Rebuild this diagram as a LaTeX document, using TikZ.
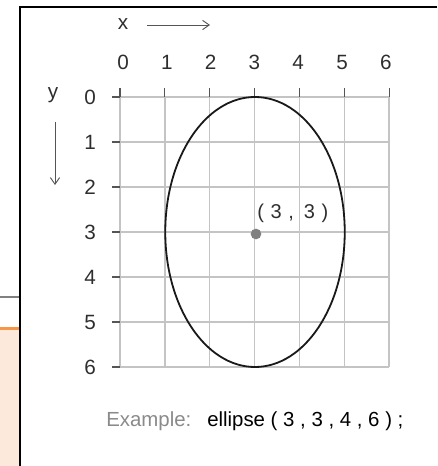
\documentclass[tikz,border=0pt]{standalone}
\usepackage{fontspec}
\setmainfont{Liberation Sans}
\usetikzlibrary{arrows.meta}
\definecolor{gridc}{HTML}{C4C4C4}
\definecolor{tickc}{HTML}{555555}
\definecolor{txt}{HTML}{2E2E2E}
\definecolor{exgray}{HTML}{8A8A8A}
\definecolor{orangec}{HTML}{F79646}
\definecolor{peach}{HTML}{FDE9DC}
\definecolor{dotc}{HTML}{808080}
\begin{document}
\begin{tikzpicture}[x=0.75pt,y=-0.75pt,
  gridline/.style={draw=gridc,line width=1.1pt},
  tickmark/.style={draw=tickc,line width=0.9pt},
  num/.style={inner sep=0pt,text=txt,font=\fontsize{15.5}{16}\selectfont},
  axarrow/.style={draw=tickc,line width=0.7pt,-{Straight Barb[length=5pt,width=7pt]}},
  frameline/.style={draw=black,line width=1.7pt}]
\useasboundingbox (0,0) rectangle (437,466);
% left strip
\fill[peach] (0,329) rectangle (19,466);
\draw[orangec,line width=1.6pt] (0,328.5) -- (19,328.5);
\draw[gray,line width=1.6pt] (0,297) -- (19,297);
% frame
\draw[frameline] (437,7) -- (20,7) -- (20,466);
% grid
\foreach \i in {0,...,6} {
  \draw[gridline] ({120+44.85*\i},97) -- ({120+44.85*\i},367);
  \draw[gridline] (120,{97+45*\i}) -- (389,{97+45*\i});
}
\foreach \i in {0,...,6} {
  \draw[tickmark] ({120+44.85*\i},88) -- ({120+44.85*\i},97);
  \draw[tickmark] (112,{97+45*\i}) -- (120,{97+45*\i});
  \node[num] (cx\i) at ({123+43.8*\i},62) {\i};
  \node[num] (ry\i) at (90,{97+45*\i}) {\i};
}
% axis labels
\node[num] (xl) at (123,24) {x};
\node[num] (yl) at (53,95) {y};
\coordinate (xa1) at (147,25);
\coordinate (xa2) at (210,25);
\coordinate (ya1) at (55,122);
\coordinate (ya2) at (55,185);
\draw[axarrow] (xa1) -- (xa2);
\draw[axarrow] (ya1) -- (ya2);
% ellipse
\coordinate (c) at (255,232);
\draw[black!90,line width=1.35pt] (c) ellipse [x radius=67.3pt, y radius=101.25pt];
\fill[dotc] (256,234) circle [radius=4pt];
\node[num,anchor=west,font=\fontsize{15}{16}\selectfont] (pl) at (257,213) {(\,\,3\,\,,\,\,\,3\,\,)};
% example
\node[anchor=west,inner sep=0pt,text=exgray,font=\fontsize{15.3}{16}\selectfont] (ex) at (106,421) {Example:};
\node[anchor=west,inner sep=0pt,text=black,font=\fontsize{15.3}{16}\selectfont] (cmd) at (207,421) {ellipse ( 3 , 3 , 4 , 6 ) ;};
\end{tikzpicture}
\end{document}
